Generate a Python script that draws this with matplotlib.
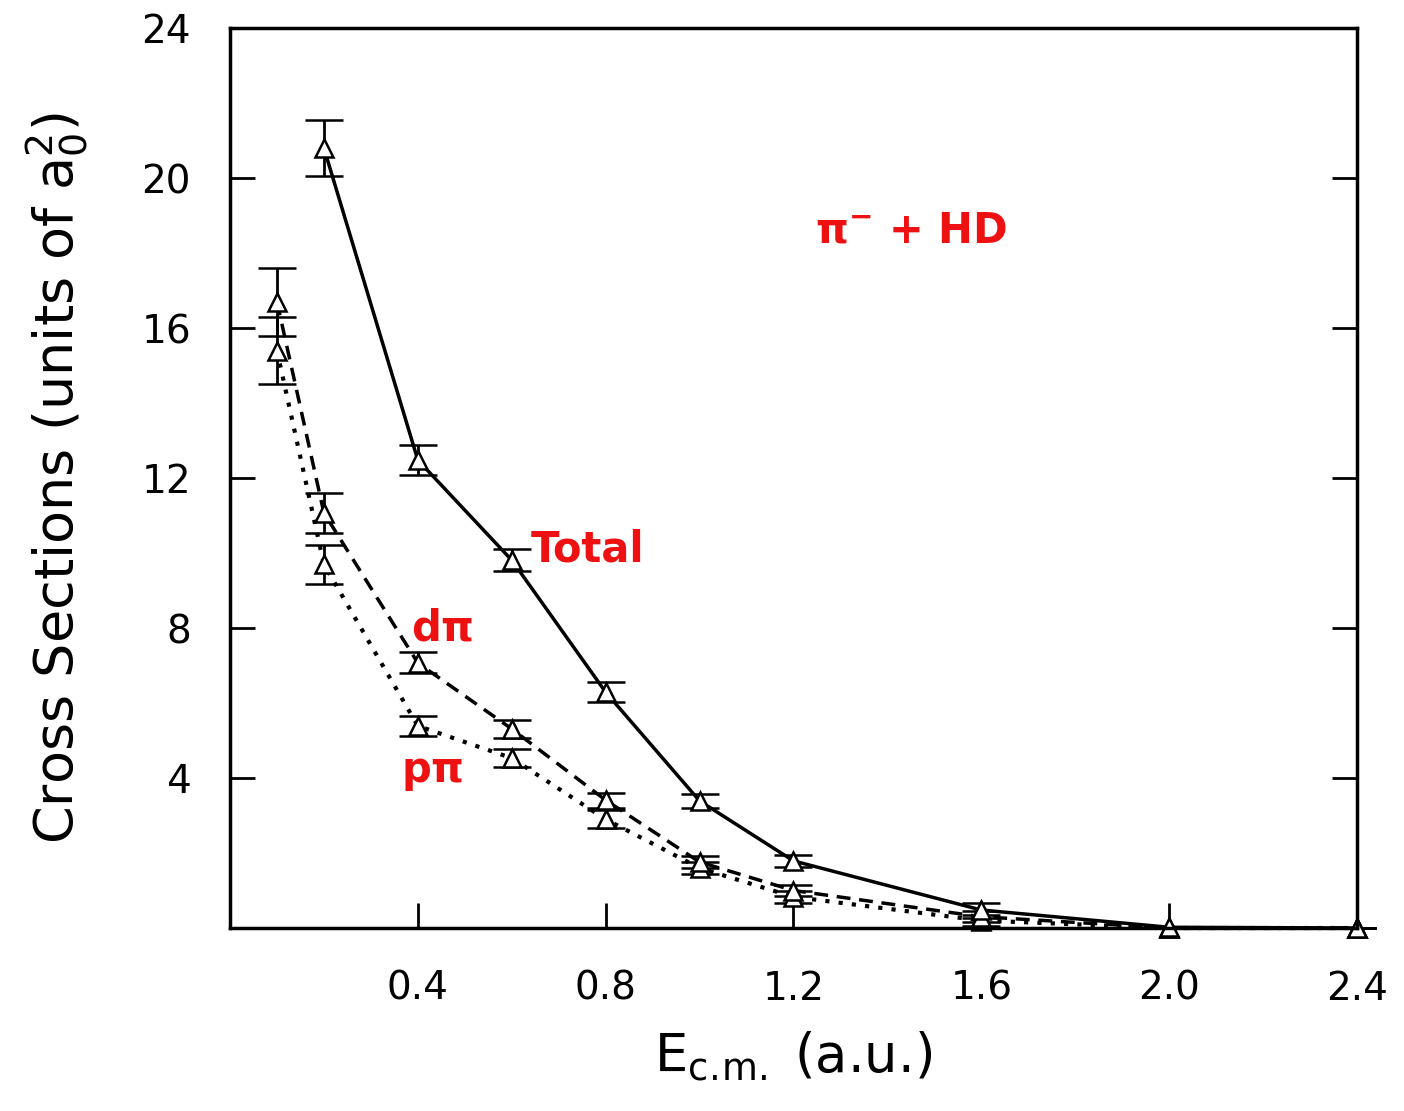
import numpy as np
import matplotlib.pyplot as plt

# Данные
x_total = [0.2, 0.4, 0.6, 0.8, 1.0, 1.2, 1.6, 2.0, 2.4]
y_total = [20.8, 12.48, 9.81, 6.29, 3.39, 1.79, 0.48, 0.02, 0.0]
e_total = [0.75, 0.4, 0.3, 0.26, 0.18, 0.17, 0.2, 0.0, 0.0]

x_dpi = [0.1, 0.2, 0.4, 0.6, 0.8, 1.0, 1.2, 1.6, 2.0, 2.4]
y_dpi = [16.7, 11.07, 7.07, 5.31, 3.41, 1.76, 1.0, 0.3, 0.0, 0.0]
e_dpi = [0.9, 0.53, 0.28, 0.25, 0.2, 0.15, 0.15, 0.15, 0.0, 0.0]

x_ppi = [0.1, 0.2, 0.4, 0.6, 0.8, 1.0, 1.2, 1.6, 2.0, 2.4]
y_ppi = [15.4, 9.7, 5.39, 4.53, 2.9, 1.6, 0.83, 0.2, 0.0, 0.0]
e_ppi = [0.9, 0.52, 0.26, 0.24, 0.24, 0.15, 0.15, 0.15, 0.0, 0.0]

xticks = [0.4, 0.8, 1.2, 1.6, 2.0, 2.4]
yticks = [4, 8, 12, 16, 20, 24]

fig = plt.figure(figsize=(14.04, 11.11), dpi=100)
ax = fig.add_axes([0.1638, 0.1647, 0.8027, 0.8101])

style = dict(marker='^', markersize=13, markerfacecolor='white', markeredgecolor='black',
             markeredgewidth=1.8, color='black', ecolor='black', elinewidth=2,
             capsize=14, capthick=2, clip_on=False)

ax.errorbar(x_ppi, y_ppi, yerr=e_ppi, linestyle=(0, (1, 2.2)), linewidth=3, **style)
ax.errorbar(x_dpi, y_dpi, yerr=e_dpi, linestyle=(0, (4, 2.5)), linewidth=2.5, **style)
ax.errorbar(x_total, y_total, yerr=e_total, linestyle='-', linewidth=2.5, **style)

# Подписи кривых
red = dict(color='#ee1111', fontsize=30, fontweight='bold')
ax.text(1.45, 18.6, r'$\mathbf{\pi^{-}}$ + HD', ha='center', va='center', **red)
ax.text(0.64, 10.1, 'Total', ha='left', va='center', **red)
ax.text(0.385, 8.0, r'd$\mathbf{\pi}$', ha='left', va='center', **red)
ax.text(0.364, 4.15, r'p$\mathbf{\pi}$', ha='left', va='center', **red)

ax.set_xlim(0, 2.4)
ax.set_ylim(0, 24)
ax.set_xticks(xticks)
ax.set_xticklabels(['0.4', '0.8', '1.2', '1.6', '2.0', '2.4'])
ax.set_yticks(yticks)

ax.tick_params(axis='both', direction='in', length=18, width=2, labelsize=28)
ax.tick_params(axis='x', pad=30)
ax.tick_params(axis='y', pad=28, right=True)

for s in ax.spines.values():
    s.set_linewidth(2.5)

ax.set_xlabel(r'E$_{\mathregular{c.\!m.}}$ (a.u.)', fontsize=38, labelpad=16)
ax.set_ylabel(r'Cross Sections (units of a$_{\mathregular{0}}^{\mathregular{2}}$)', fontsize=39, labelpad=36)

plt.savefig('out.png', dpi=100)
